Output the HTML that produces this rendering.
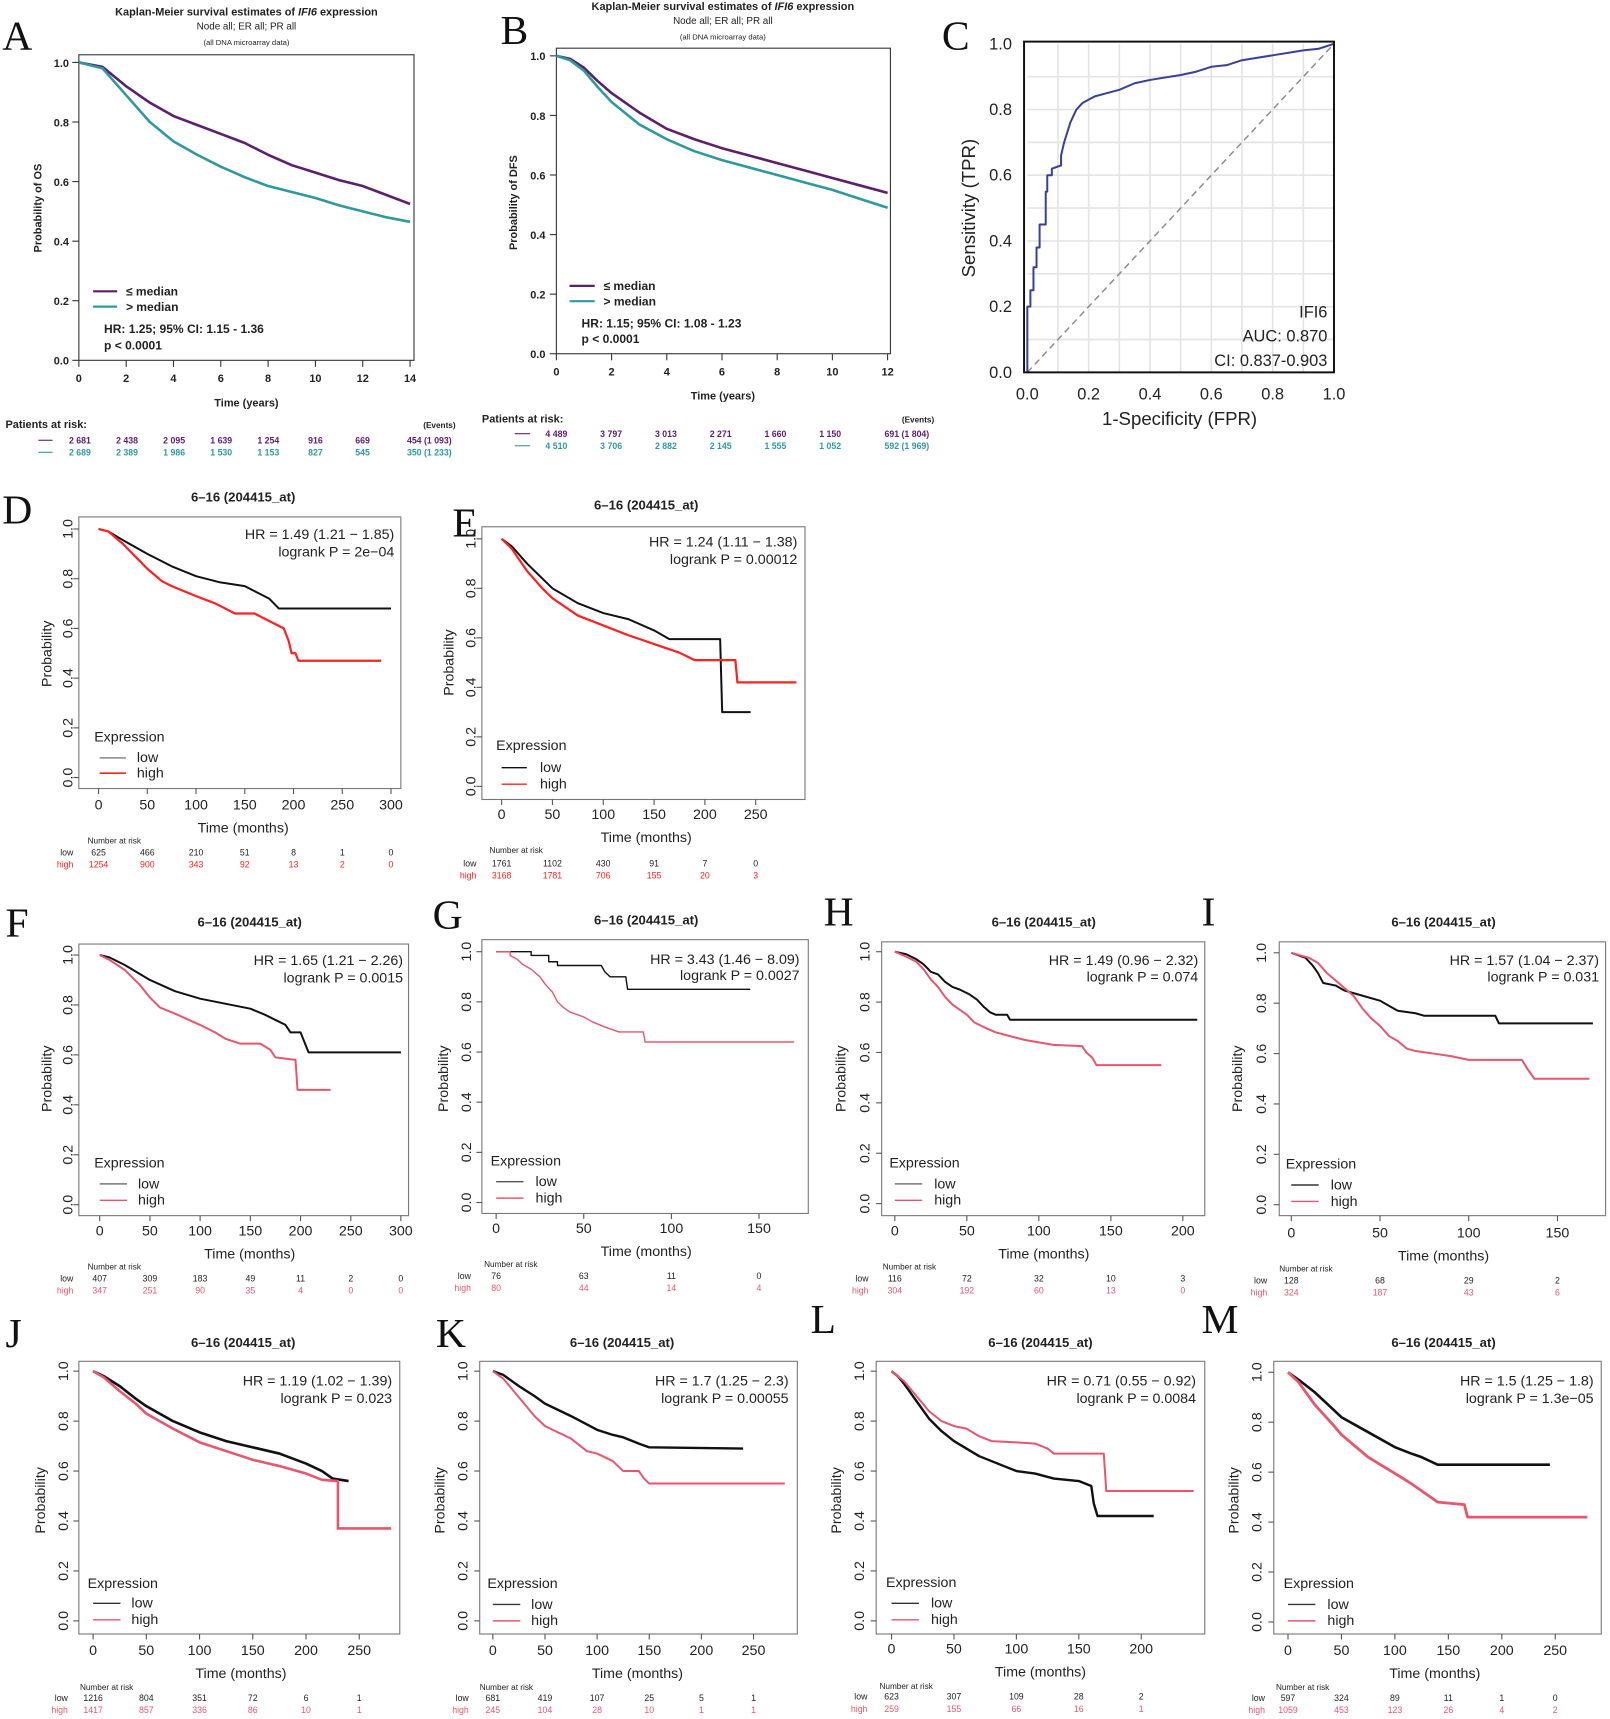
<!DOCTYPE html>
<html><head><meta charset="utf-8"><style>
html,body{margin:0;padding:0;background:#fff}
svg{display:block}
text{font-family:"Liberation Sans",Arial,sans-serif;fill:#222}
.pl{font-family:"Liberation Serif",serif;font-size:38px;fill:#111}
.ttl{font-size:12px;font-weight:bold;text-anchor:middle}
.tk{font-size:13px;text-anchor:middle}
.hr{font-size:13px;text-anchor:end}
.lg{font-size:13px}
.rk{font-size:8px;text-anchor:middle}
.rl{font-size:8px;text-anchor:end}
.nr{font-size:7.5px}
.hi,g.hi text{fill:#e8566e}
.hr2,g.hr2 text{fill:#ff2020}
g.pf text{fill:#5b1f6e}
g.tf text{fill:#2e9aa0}
.box{fill:none;stroke:#777;stroke-width:1}
.c{fill:none;vector-effect:non-scaling-stroke;stroke-linejoin:round}
.lo{stroke:#111;stroke-width:2}
.hp{stroke:#e8566e;stroke-width:2}
.hrd{stroke:#ff2020;stroke-width:2.2}
.pu{stroke:#5b1f6e;stroke-width:2.6}
.te{stroke:#2e9aa0;stroke-width:2.6}
.ab{font-size:10px;font-weight:bold}
</style></head><body>
<svg width="1610" height="1719" viewBox="0 0 1470 1569.6" preserveAspectRatio="none" xmlns="http://www.w3.org/2000/svg">

<!-- ===== A ===== -->
<text class="pl" x="2" y="45">A</text>
<text x="225" y="14" style="font-size:10px;font-weight:bold;text-anchor:middle">Kaplan-Meier survival estimates of <tspan font-style="italic">IFI6</tspan> expression</text>
<text x="225" y="27" style="font-size:9px;text-anchor:middle">Node all; ER all; PR all</text>
<text x="225" y="41" style="font-size:7px;text-anchor:middle">(all DNA microarray data)</text>
<rect x="72" y="50" width="306" height="279" fill="none" stroke="#333" stroke-width="1"/>
<g stroke="#333"><line x1="72" y1="329" x2="72" y2="335"/><line x1="115.2" y1="329" x2="115.2" y2="335"/><line x1="158.4" y1="329" x2="158.4" y2="335"/><line x1="201.6" y1="329" x2="201.6" y2="335"/><line x1="244.8" y1="329" x2="244.8" y2="335"/><line x1="288" y1="329" x2="288" y2="335"/><line x1="331.2" y1="329" x2="331.2" y2="335"/><line x1="374.4" y1="329" x2="374.4" y2="335"/>
<line x1="66" y1="329" x2="72" y2="329"/><line x1="66" y1="274.6" x2="72" y2="274.6"/><line x1="66" y1="220.2" x2="72" y2="220.2"/><line x1="66" y1="165.8" x2="72" y2="165.8"/><line x1="66" y1="111.4" x2="72" y2="111.4"/><line x1="66" y1="57" x2="72" y2="57"/></g>
<g class="ab" text-anchor="middle"><text x="72" y="349">0</text><text x="115.2" y="349">2</text><text x="158.4" y="349">4</text><text x="201.6" y="349">6</text><text x="244.8" y="349">8</text><text x="288" y="349">10</text><text x="331.2" y="349">12</text><text x="374.4" y="349">14</text></g>
<g class="ab" text-anchor="end"><text x="63" y="333">0.0</text><text x="63" y="278.6">0.2</text><text x="63" y="224.2">0.4</text><text x="63" y="169.8">0.6</text><text x="63" y="115.4">0.8</text><text x="63" y="61">1.0</text></g>
<text class="ab" x="225" y="371" text-anchor="middle">Time (years)</text>
<text class="ab" transform="translate(38,190) rotate(-90)" text-anchor="middle">Probability of OS</text>
<g transform="translate(72,329) scale(21.6,-272)">
<polyline class="c pu" points="0,1 1,0.985 2,0.92 3,0.865 4,0.82 5,0.79 6,0.76 7,0.73 8,0.69 9,0.655 10,0.63 11,0.605 12,0.585 13,0.555 14,0.525"/>
<polyline class="c te" points="0,1 1,0.98 2,0.89 3,0.8 4,0.735 5,0.69 6,0.65 7,0.615 8,0.585 9,0.565 10,0.545 11,0.52 12,0.5 13,0.48 14,0.465"/>
</g>
<line x1="85" y1="266" x2="107" y2="266" stroke="#5b1f6e" stroke-width="2"/><line x1="85" y1="280" x2="107" y2="280" stroke="#2e9aa0" stroke-width="2"/>
<text class="ab" x="115" y="270" style="font-size:11px">≤ median</text><text class="ab" x="115" y="284" style="font-size:11px">&gt; median</text>
<text class="ab" x="95" y="304" style="font-size:11px">HR: 1.25; 95% CI: 1.15 - 1.36</text>
<text class="ab" x="95" y="319" style="font-size:11px">p &lt; 0.0001</text>
<text class="ab" x="5" y="391">Patients at risk:</text>
<text x="416" y="391" style="font-size:7.5px;font-weight:bold;text-anchor:end">(Events)</text>
<line x1="35" y1="402" x2="48" y2="402" stroke="#5b1f6e"/><line x1="35" y1="413" x2="48" y2="413" stroke="#2e9aa0"/>
<g class="pf" style="font-size:8px;font-weight:bold;text-anchor:middle"><text x="73" y="405">2 681</text><text x="116" y="405">2 438</text><text x="159" y="405">2 095</text><text x="202" y="405">1 639</text><text x="245" y="405">1 254</text><text x="288" y="405">916</text><text x="331" y="405">669</text><text x="392" y="405">454  (1 093)</text></g>
<g class="tf" style="font-size:8px;font-weight:bold;text-anchor:middle"><text x="73" y="416">2 689</text><text x="116" y="416">2 389</text><text x="159" y="416">1 986</text><text x="202" y="416">1 530</text><text x="245" y="416">1 153</text><text x="288" y="416">827</text><text x="331" y="416">545</text><text x="392" y="416">350  (1 233)</text></g>

<!-- ===== B ===== -->
<text class="pl" x="457" y="40">B</text>
<text x="660" y="9" style="font-size:10px;font-weight:bold;text-anchor:middle">Kaplan-Meier survival estimates of <tspan font-style="italic">IFI6</tspan> expression</text>
<text x="660" y="22" style="font-size:9px;text-anchor:middle">Node all; ER all; PR all</text>
<text x="660" y="36" style="font-size:7px;text-anchor:middle">(all DNA microarray data)</text>
<rect x="508" y="44" width="305" height="279" fill="none" stroke="#333" stroke-width="1"/>
<g stroke="#333"><line x1="508" y1="323" x2="508" y2="329"/><line x1="558.4" y1="323" x2="558.4" y2="329"/><line x1="608.8" y1="323" x2="608.8" y2="329"/><line x1="659.2" y1="323" x2="659.2" y2="329"/><line x1="709.6" y1="323" x2="709.6" y2="329"/><line x1="760" y1="323" x2="760" y2="329"/><line x1="810.4" y1="323" x2="810.4" y2="329"/>
<line x1="502" y1="323" x2="508" y2="323"/><line x1="502" y1="268.6" x2="508" y2="268.6"/><line x1="502" y1="214.2" x2="508" y2="214.2"/><line x1="502" y1="159.8" x2="508" y2="159.8"/><line x1="502" y1="105.4" x2="508" y2="105.4"/><line x1="502" y1="51" x2="508" y2="51"/></g>
<g class="ab" text-anchor="middle"><text x="508" y="343">0</text><text x="558.4" y="343">2</text><text x="608.8" y="343">4</text><text x="659.2" y="343">6</text><text x="709.6" y="343">8</text><text x="760" y="343">10</text><text x="810.4" y="343">12</text></g>
<g class="ab" text-anchor="end"><text x="498" y="327">0.0</text><text x="498" y="272.6">0.2</text><text x="498" y="218.2">0.4</text><text x="498" y="163.8">0.6</text><text x="498" y="109.4">0.8</text><text x="498" y="55">1.0</text></g>
<text class="ab" x="660" y="365" text-anchor="middle">Time (years)</text>
<text class="ab" transform="translate(472,185) rotate(-90)" text-anchor="middle">Probability of DFS</text>
<g transform="translate(508,323) scale(25.2,-272)">
<polyline class="c pu" points="0,1 0.5,0.99 1,0.96 1.5,0.915 2,0.875 3,0.81 4,0.755 5,0.72 6,0.69 7,0.665 8,0.64 9,0.615 10,0.59 11,0.565 12,0.54"/>
<polyline class="c te" points="0,1 0.5,0.985 1,0.95 1.5,0.895 2,0.845 3,0.77 4,0.72 5,0.68 6,0.65 7,0.625 8,0.6 9,0.575 10,0.55 11,0.52 12,0.49"/>
</g>
<line x1="520" y1="261" x2="543" y2="261" stroke="#5b1f6e" stroke-width="2"/><line x1="520" y1="275" x2="543" y2="275" stroke="#2e9aa0" stroke-width="2"/>
<text class="ab" x="551" y="265" style="font-size:11px">≤ median</text><text class="ab" x="551" y="279" style="font-size:11px">&gt; median</text>
<text class="ab" x="531" y="299" style="font-size:11px">HR: 1.15; 95% CI: 1.08 - 1.23</text>
<text class="ab" x="531" y="313" style="font-size:11px">p &lt; 0.0001</text>
<text class="ab" x="440" y="386">Patients at risk:</text>
<text x="853" y="386" style="font-size:7.5px;font-weight:bold;text-anchor:end">(Events)</text>
<line x1="470" y1="396" x2="484" y2="396" stroke="#5b1f6e"/><line x1="470" y1="407" x2="484" y2="407" stroke="#2e9aa0"/>
<g class="pf" style="font-size:8px;font-weight:bold;text-anchor:middle"><text x="508" y="399">4 489</text><text x="558" y="399">3 797</text><text x="608" y="399">3 013</text><text x="658" y="399">2 271</text><text x="708" y="399">1 660</text><text x="758" y="399">1 150</text><text x="828" y="399">691  (1 804)</text></g>
<g class="tf" style="font-size:8px;font-weight:bold;text-anchor:middle"><text x="508" y="410">4 510</text><text x="558" y="410">3 706</text><text x="608" y="410">2 882</text><text x="658" y="410">2 145</text><text x="708" y="410">1 555</text><text x="758" y="410">1 052</text><text x="828" y="410">592  (1 969)</text></g>

<!-- ===== C ===== -->
<text class="pl" x="860" y="45">C</text>
<g stroke="#e4e4e4" stroke-width="1.5">
<line x1="966" y1="40" x2="966" y2="340"/><line x1="994" y1="40" x2="994" y2="340"/><line x1="1022" y1="40" x2="1022" y2="340"/><line x1="1050" y1="40" x2="1050" y2="340"/><line x1="1078" y1="40" x2="1078" y2="340"/><line x1="1106" y1="40" x2="1106" y2="340"/><line x1="1134" y1="40" x2="1134" y2="340"/><line x1="1162" y1="40" x2="1162" y2="340"/><line x1="1190" y1="40" x2="1190" y2="340"/>
<line x1="938" y1="70" x2="1218" y2="70"/><line x1="938" y1="100" x2="1218" y2="100"/><line x1="938" y1="130" x2="1218" y2="130"/><line x1="938" y1="160" x2="1218" y2="160"/><line x1="938" y1="190" x2="1218" y2="190"/><line x1="938" y1="220" x2="1218" y2="220"/><line x1="938" y1="250" x2="1218" y2="250"/><line x1="938" y1="280" x2="1218" y2="280"/><line x1="938" y1="310" x2="1218" y2="310"/></g>
<line x1="938" y1="340" x2="1218" y2="40" stroke="#888" stroke-width="1.3" stroke-dasharray="6,4"/>
<g transform="translate(938,340) scale(280,-300)">
<polyline class="c" stroke="#3a3f9e" stroke-width="2" points="0,0 0,0.2 0.01,0.2 0.01,0.25 0.02,0.25 0.02,0.32 0.03,0.32 0.03,0.38 0.04,0.38 0.04,0.45 0.06,0.45 0.06,0.55 0.065,0.55 0.065,0.6 0.08,0.6 0.08,0.62 0.11,0.63 0.11,0.66 0.12,0.7 0.13,0.73 0.14,0.76 0.15,0.78 0.16,0.8 0.18,0.82 0.2,0.83 0.22,0.84 0.26,0.85 0.3,0.86 0.35,0.88 0.4,0.89 0.5,0.905 0.55,0.915 0.6,0.93 0.65,0.935 0.7,0.95 0.8,0.965 0.9,0.98 0.95,0.985 1,1"/>
</g>
<rect x="935" y="38" width="283" height="302" fill="none" stroke="#111" stroke-width="1.8"/>
<g style="font-size:15px;text-anchor:middle"><text x="938" y="365">0.0</text><text x="994" y="365">0.2</text><text x="1050" y="365">0.4</text><text x="1106" y="365">0.6</text><text x="1162" y="365">0.8</text><text x="1218" y="365">1.0</text></g>
<g style="font-size:15px;text-anchor:end"><text x="924" y="345">0.0</text><text x="924" y="285">0.2</text><text x="924" y="225">0.4</text><text x="924" y="165">0.6</text><text x="924" y="105">0.8</text><text x="924" y="45">1.0</text></g>
<text x="1077" y="388" style="font-size:17px;text-anchor:middle">1-Specificity (FPR)</text>
<text transform="translate(890,190) rotate(-90)" style="font-size:17px;text-anchor:middle">Sensitivity (TPR)</text>
<g style="font-size:15px;text-anchor:end"><text x="1212" y="290">IFI6</text><text x="1212" y="312">AUC: 0.870</text><text x="1212" y="334">CI: 0.837-0.903</text></g>

<!-- ===== D ===== -->
<text class="pl" x="2" y="478">D</text>
<text class="ttl" x="222" y="458">6–16 (204415_at)</text>
<rect class="box" x="72" y="472" width="294" height="248"/>
<g stroke="#555"><line x1="90" y1="720" x2="90" y2="725"/><line x1="134.5" y1="720" x2="134.5" y2="725"/><line x1="179" y1="720" x2="179" y2="725"/><line x1="223.5" y1="720" x2="223.5" y2="725"/><line x1="268" y1="720" x2="268" y2="725"/><line x1="312.5" y1="720" x2="312.5" y2="725"/><line x1="357" y1="720" x2="357" y2="725"/>
<line x1="67" y1="710" x2="72" y2="710"/><line x1="67" y1="664.6" x2="72" y2="664.6"/><line x1="67" y1="619.2" x2="72" y2="619.2"/><line x1="67" y1="573.8" x2="72" y2="573.8"/><line x1="67" y1="528.4" x2="72" y2="528.4"/><line x1="67" y1="483" x2="72" y2="483"/></g>
<g class="tk"><text x="90" y="739">0</text><text x="134.5" y="739">50</text><text x="179" y="739">100</text><text x="223.5" y="739">150</text><text x="268" y="739">200</text><text x="312.5" y="739">250</text><text x="357" y="739">300</text></g>
<g class="tk"><text transform="translate(66,710) rotate(-90)">0.0</text><text transform="translate(66,664.6) rotate(-90)">0.2</text><text transform="translate(66,619.2) rotate(-90)">0.4</text><text transform="translate(66,573.8) rotate(-90)">0.6</text><text transform="translate(66,528.4) rotate(-90)">0.8</text><text transform="translate(66,483) rotate(-90)">1.0</text></g>
<text class="tk" x="222" y="760">Time (months)</text>
<text class="tk" transform="translate(47,597) rotate(-90)">Probability</text>
<text class="hr" x="360" y="492">HR = 1.49 (1.21 − 1.85)</text><text class="hr" x="360" y="508">logrank P = 2e−04</text>
<g transform="translate(90,710) scale(0.89,-227)">
<polyline class="c lo" points="0,1 10,0.99 25,0.955 50,0.9 75,0.85 100,0.81 125,0.785 150,0.77 165,0.74 175,0.72 180,0.7 185,0.68 300,0.68"/>
<polyline class="c hrd" points="0,1 10,0.99 25,0.94 40,0.88 50,0.84 65,0.79 75,0.77 100,0.73 120,0.7 140,0.66 160,0.66 175,0.63 190,0.6 195,0.55 198,0.5 202,0.5 205,0.47 290,0.47"/>
</g>
<text class="lg" x="86" y="677">Expression</text>
<line x1="91" y1="692" x2="115" y2="692" stroke="#999" stroke-width="1.5"/><line x1="91" y1="706" x2="115" y2="706" stroke="#ff2020" stroke-width="1.5"/>
<text class="lg" x="125" y="696">low</text><text class="lg" x="125" y="710">high</text>
<text class="nr" x="80" y="770">Number at risk</text>
<text class="rl" x="67" y="781">low</text><text class="rl hr2" x="67" y="792">high</text>
<g class="rk"><text x="90" y="781">625</text><text x="134.5" y="781">466</text><text x="179" y="781">210</text><text x="223.5" y="781">51</text><text x="268" y="781">8</text><text x="312.5" y="781">1</text><text x="357" y="781">0</text></g>
<g class="rk hr2"><text x="90" y="792">1254</text><text x="134.5" y="792">900</text><text x="179" y="792">343</text><text x="223.5" y="792">92</text><text x="268" y="792">13</text><text x="312.5" y="792">2</text><text x="357" y="792">0</text></g>

<!-- ===== E ===== -->
<text class="pl" x="413" y="490">E</text>
<text class="ttl" x="590" y="465">6–16 (204415_at)</text>
<rect class="box" x="440" y="481" width="295" height="249"/>
<g stroke="#555"><line x1="458" y1="730" x2="458" y2="735"/><line x1="504.4" y1="730" x2="504.4" y2="735"/><line x1="550.8" y1="730" x2="550.8" y2="735"/><line x1="597.2" y1="730" x2="597.2" y2="735"/><line x1="643.6" y1="730" x2="643.6" y2="735"/><line x1="690" y1="730" x2="690" y2="735"/>
<line x1="435" y1="718" x2="440" y2="718"/><line x1="435" y1="672.8" x2="440" y2="672.8"/><line x1="435" y1="627.6" x2="440" y2="627.6"/><line x1="435" y1="582.4" x2="440" y2="582.4"/><line x1="435" y1="537.2" x2="440" y2="537.2"/><line x1="435" y1="492" x2="440" y2="492"/></g>
<g class="tk"><text x="458" y="748">0</text><text x="504.4" y="748">50</text><text x="550.8" y="748">100</text><text x="597.2" y="748">150</text><text x="643.6" y="748">200</text><text x="690" y="748">250</text></g>
<g class="tk"><text transform="translate(434,718) rotate(-90)">0.0</text><text transform="translate(434,672.8) rotate(-90)">0.2</text><text transform="translate(434,627.6) rotate(-90)">0.4</text><text transform="translate(434,582.4) rotate(-90)">0.6</text><text transform="translate(434,537.2) rotate(-90)">0.8</text><text transform="translate(434,492) rotate(-90)">1.0</text></g>
<text class="tk" x="590" y="769">Time (months)</text>
<text class="tk" transform="translate(414,605) rotate(-90)">Probability</text>
<text class="hr" x="728" y="499">HR = 1.24 (1.11 − 1.38)</text><text class="hr" x="728" y="515">logrank P = 0.00012</text>
<g transform="translate(458,718) scale(0.928,-226)">
<polyline class="c lo" points="0,1 10,0.97 25,0.9 40,0.84 50,0.8 75,0.74 100,0.7 125,0.675 150,0.63 165,0.595 215,0.595 217,0.3 245,0.3"/>
<polyline class="c hrd" points="0,1 10,0.96 25,0.87 40,0.8 50,0.76 75,0.69 100,0.65 125,0.61 150,0.575 175,0.54 190,0.51 230,0.51 232,0.42 290,0.42"/>
</g>
<text class="lg" x="453" y="685">Expression</text>
<line x1="458" y1="701" x2="481" y2="701" stroke="#111" stroke-width="1.3"/><line x1="458" y1="716" x2="481" y2="716" stroke="#ff2020" stroke-width="1.3"/>
<text class="lg" x="493" y="705">low</text><text class="lg" x="493" y="720">high</text>
<text class="nr" x="447" y="779">Number at risk</text>
<text class="rl" x="435" y="791">low</text><text class="rl hr2" x="435" y="802">high</text>
<g class="rk"><text x="458" y="791">1761</text><text x="504.4" y="791">1102</text><text x="550.8" y="791">430</text><text x="597.2" y="791">91</text><text x="643.6" y="791">7</text><text x="690" y="791">0</text></g>
<g class="rk hr2"><text x="458" y="802">3168</text><text x="504.4" y="802">1781</text><text x="550.8" y="802">706</text><text x="597.2" y="802">155</text><text x="643.6" y="802">20</text><text x="690" y="802">3</text></g>

<!-- ===== F ===== -->
<text class="pl" x="5" y="855">F</text>
<text class="ttl" x="228" y="846">6–16 (204415_at)</text>
<rect class="box" x="72" y="862" width="301" height="248"/>
<g stroke="#555"><line x1="91" y1="1110" x2="91" y2="1115"/><line x1="136.9" y1="1110" x2="136.9" y2="1115"/><line x1="182.7" y1="1110" x2="182.7" y2="1115"/><line x1="228.6" y1="1110" x2="228.6" y2="1115"/><line x1="274.4" y1="1110" x2="274.4" y2="1115"/><line x1="320.3" y1="1110" x2="320.3" y2="1115"/><line x1="366" y1="1110" x2="366" y2="1115"/>
<line x1="67" y1="1100" x2="72" y2="1100"/><line x1="67" y1="1054.4" x2="72" y2="1054.4"/><line x1="67" y1="1008.8" x2="72" y2="1008.8"/><line x1="67" y1="963.2" x2="72" y2="963.2"/><line x1="67" y1="917.6" x2="72" y2="917.6"/><line x1="67" y1="872" x2="72" y2="872"/></g>
<g class="tk"><text x="91" y="1128">0</text><text x="136.9" y="1128">50</text><text x="182.7" y="1128">100</text><text x="228.6" y="1128">150</text><text x="274.4" y="1128">200</text><text x="320.3" y="1128">250</text><text x="366" y="1128">300</text></g>
<g class="tk"><text transform="translate(66,1100) rotate(-90)">0.0</text><text transform="translate(66,1054.4) rotate(-90)">0.2</text><text transform="translate(66,1008.8) rotate(-90)">0.4</text><text transform="translate(66,963.2) rotate(-90)">0.6</text><text transform="translate(66,917.6) rotate(-90)">0.8</text><text transform="translate(66,872) rotate(-90)">1.0</text></g>
<text class="tk" x="228" y="1149">Time (months)</text>
<text class="tk" transform="translate(47,985) rotate(-90)">Probability</text>
<text class="hr" x="368" y="881">HR = 1.65 (1.21 − 2.26)</text><text class="hr" x="368" y="897">logrank P = 0.0015</text>
<g transform="translate(91,1100) scale(0.917,-228)">
<polyline class="c lo" points="0,1 10,0.99 25,0.96 50,0.9 75,0.855 100,0.825 125,0.805 150,0.785 165,0.76 175,0.74 185,0.72 190,0.69 200,0.69 205,0.64 208,0.61 300,0.61"/>
<polyline class="c hp" points="0,1 10,0.98 25,0.94 40,0.88 50,0.83 60,0.79 75,0.765 100,0.72 115,0.69 125,0.665 140,0.645 160,0.645 170,0.62 175,0.59 195,0.58 197,0.46 230,0.46"/>
</g>
<text class="lg" x="86" y="1066">Expression</text>
<line x1="91" y1="1081" x2="116" y2="1081" stroke="#777" stroke-width="1.3"/><line x1="91" y1="1096" x2="116" y2="1096" stroke="#e8566e" stroke-width="1.3"/>
<text class="lg" x="126" y="1085">low</text><text class="lg" x="126" y="1100">high</text>
<text class="nr" x="80" y="1159">Number at risk</text>
<text class="rl" x="67" y="1170">low</text><text class="rl hi" x="67" y="1181">high</text>
<g class="rk"><text x="91" y="1170">407</text><text x="136.9" y="1170">309</text><text x="182.7" y="1170">183</text><text x="228.6" y="1170">49</text><text x="274.4" y="1170">11</text><text x="320.3" y="1170">2</text><text x="366" y="1170">0</text></g>
<g class="rk hi"><text x="91" y="1181">347</text><text x="136.9" y="1181">251</text><text x="182.7" y="1181">90</text><text x="228.6" y="1181">35</text><text x="274.4" y="1181">4</text><text x="320.3" y="1181">0</text><text x="366" y="1181">0</text></g>

<!-- ===== G ===== -->
<text class="pl" x="395" y="848">G</text>
<text class="ttl" x="590" y="844">6–16 (204415_at)</text>
<rect class="box" x="440" y="858" width="298" height="250"/>
<g stroke="#555"><line x1="453" y1="1108" x2="453" y2="1113"/><line x1="533" y1="1108" x2="533" y2="1113"/><line x1="613" y1="1108" x2="613" y2="1113"/><line x1="693" y1="1108" x2="693" y2="1113"/>
<line x1="435" y1="1098" x2="440" y2="1098"/><line x1="435" y1="1052.2" x2="440" y2="1052.2"/><line x1="435" y1="1006.4" x2="440" y2="1006.4"/><line x1="435" y1="960.6" x2="440" y2="960.6"/><line x1="435" y1="914.8" x2="440" y2="914.8"/><line x1="435" y1="869" x2="440" y2="869"/></g>
<g class="tk"><text x="453" y="1126">0</text><text x="533" y="1126">50</text><text x="613" y="1126">100</text><text x="693" y="1126">150</text></g>
<g class="tk"><text transform="translate(430,1098) rotate(-90)">0.0</text><text transform="translate(430,1052.2) rotate(-90)">0.2</text><text transform="translate(430,1006.4) rotate(-90)">0.4</text><text transform="translate(430,960.6) rotate(-90)">0.6</text><text transform="translate(430,914.8) rotate(-90)">0.8</text><text transform="translate(430,869) rotate(-90)">1.0</text></g>
<text class="tk" x="590" y="1147">Time (months)</text>
<text class="tk" transform="translate(409,985) rotate(-90)">Probability</text>
<text class="hr" x="730" y="880">HR = 3.43 (1.46 − 8.09)</text><text class="hr" x="730" y="895">logrank P = 0.0027</text>
<g transform="translate(453,1098) scale(1.6,-229)">
<polyline class="c lo" style="stroke-width:1.4" points="0,1 20,1 20,0.985 30,0.985 30,0.96 35,0.96 35,0.945 60,0.945 62,0.92 65,0.9 74,0.9 75,0.85 145,0.85"/>
<polyline class="c hp" style="stroke-width:1.4" points="0,1 8,1 8,0.985 12,0.97 15,0.95 20,0.93 25,0.9 28,0.87 32,0.84 35,0.8 38,0.78 42,0.76 50,0.74 55,0.72 62,0.7 70,0.68 84,0.68 85,0.64 170,0.64"/>
</g>
<text class="lg" x="448" y="1064">Expression</text>
<line x1="453" y1="1079" x2="478" y2="1079" stroke="#555" stroke-width="1.3"/><line x1="453" y1="1094" x2="478" y2="1094" stroke="#e8566e" stroke-width="1.3"/>
<text class="lg" x="489" y="1083">low</text><text class="lg" x="489" y="1098">high</text>
<text class="nr" x="442" y="1157">Number at risk</text>
<text class="rl" x="430" y="1168">low</text><text class="rl hi" x="430" y="1179">high</text>
<g class="rk"><text x="453" y="1168">76</text><text x="533" y="1168">63</text><text x="613" y="1168">11</text><text x="693" y="1168">0</text></g>
<g class="rk hi"><text x="453" y="1179">80</text><text x="533" y="1179">44</text><text x="613" y="1179">14</text><text x="693" y="1179">4</text></g>

<!-- ===== H ===== -->
<text class="pl" x="752" y="845">H</text>
<text class="ttl" x="953" y="846">6–16 (204415_at)</text>
<rect class="box" x="805" y="860" width="295" height="250"/>
<g stroke="#555"><line x1="817" y1="1110" x2="817" y2="1115"/><line x1="882.8" y1="1110" x2="882.8" y2="1115"/><line x1="948.5" y1="1110" x2="948.5" y2="1115"/><line x1="1014.3" y1="1110" x2="1014.3" y2="1115"/><line x1="1080" y1="1110" x2="1080" y2="1115"/>
<line x1="800" y1="1099" x2="805" y2="1099"/><line x1="800" y1="1053" x2="805" y2="1053"/><line x1="800" y1="1007" x2="805" y2="1007"/><line x1="800" y1="961" x2="805" y2="961"/><line x1="800" y1="915" x2="805" y2="915"/><line x1="800" y1="869" x2="805" y2="869"/></g>
<g class="tk"><text x="817" y="1128">0</text><text x="882.8" y="1128">50</text><text x="948.5" y="1128">100</text><text x="1014.3" y="1128">150</text><text x="1080" y="1128">200</text></g>
<g class="tk"><text transform="translate(794,1099) rotate(-90)">0.0</text><text transform="translate(794,1053) rotate(-90)">0.2</text><text transform="translate(794,1007) rotate(-90)">0.4</text><text transform="translate(794,961) rotate(-90)">0.6</text><text transform="translate(794,915) rotate(-90)">0.8</text><text transform="translate(794,869) rotate(-90)">1.0</text></g>
<text class="tk" x="953" y="1149">Time (months)</text>
<text class="tk" transform="translate(772,985) rotate(-90)">Probability</text>
<text class="hr" x="1094" y="881">HR = 1.49 (0.96 − 2.32)</text><text class="hr" x="1094" y="896">logrank P = 0.074</text>
<g transform="translate(817,1099) scale(1.315,-230)">
<polyline class="c lo" points="0,1 8,0.99 15,0.97 20,0.95 25,0.92 30,0.91 35,0.88 40,0.86 45,0.85 52,0.83 57,0.81 62,0.78 66,0.76 70,0.75 78,0.75 80,0.73 210,0.73"/>
<polyline class="c hp" points="0,1 8,0.98 15,0.96 20,0.93 25,0.89 30,0.86 35,0.82 40,0.79 45,0.77 50,0.75 55,0.72 62,0.7 70,0.68 80,0.665 90,0.65 100,0.64 110,0.63 130,0.625 133,0.6 137,0.58 140,0.55 185,0.55"/>
</g>
<text class="lg" x="812" y="1066">Expression</text>
<line x1="817" y1="1081" x2="842" y2="1081" stroke="#777" stroke-width="1.3"/><line x1="817" y1="1096" x2="842" y2="1096" stroke="#e8566e" stroke-width="1.3"/>
<text class="lg" x="853" y="1085">low</text><text class="lg" x="853" y="1100">high</text>
<text class="nr" x="806" y="1159">Number at risk</text>
<text class="rl" x="793" y="1170">low</text><text class="rl hi" x="793" y="1181">high</text>
<g class="rk"><text x="817" y="1170">116</text><text x="882.8" y="1170">72</text><text x="948.5" y="1170">32</text><text x="1014.3" y="1170">10</text><text x="1080" y="1170">3</text></g>
<g class="rk hi"><text x="817" y="1181">304</text><text x="882.8" y="1181">192</text><text x="948.5" y="1181">60</text><text x="1014.3" y="1181">13</text><text x="1080" y="1181">0</text></g>

<!-- ===== I ===== -->
<text class="pl" x="1097" y="845">I</text>
<text class="ttl" x="1318" y="846">6–16 (204415_at)</text>
<rect class="box" x="1168" y="860" width="298" height="250"/>
<g stroke="#555"><line x1="1179" y1="1110" x2="1179" y2="1115"/><line x1="1260" y1="1110" x2="1260" y2="1115"/><line x1="1341" y1="1110" x2="1341" y2="1115"/><line x1="1422" y1="1110" x2="1422" y2="1115"/>
<line x1="1163" y1="1100" x2="1168" y2="1100"/><line x1="1163" y1="1054" x2="1168" y2="1054"/><line x1="1163" y1="1008" x2="1168" y2="1008"/><line x1="1163" y1="962" x2="1168" y2="962"/><line x1="1163" y1="916" x2="1168" y2="916"/><line x1="1163" y1="870" x2="1168" y2="870"/></g>
<g class="tk"><text x="1179" y="1130">0</text><text x="1260" y="1130">50</text><text x="1341" y="1130">100</text><text x="1422" y="1130">150</text></g>
<g class="tk"><text transform="translate(1156,1100) rotate(-90)">0.0</text><text transform="translate(1156,1054) rotate(-90)">0.2</text><text transform="translate(1156,1008) rotate(-90)">0.4</text><text transform="translate(1156,962) rotate(-90)">0.6</text><text transform="translate(1156,916) rotate(-90)">0.8</text><text transform="translate(1156,870) rotate(-90)">1.0</text></g>
<text class="tk" x="1318" y="1151">Time (months)</text>
<text class="tk" transform="translate(1134,985) rotate(-90)">Probability</text>
<text class="hr" x="1460" y="881">HR = 1.57 (1.04 − 2.37)</text><text class="hr" x="1460" y="896">logrank P = 0.031</text>
<g transform="translate(1179,1100) scale(1.62,-230)">
<polyline class="c lo" points="0,1 8,0.98 12,0.95 15,0.92 18,0.88 25,0.87 30,0.85 40,0.83 50,0.81 55,0.79 60,0.77 70,0.76 75,0.75 115,0.75 117,0.72 170,0.72"/>
<polyline class="c hp" points="0,1 10,0.98 15,0.96 20,0.92 25,0.89 30,0.86 35,0.83 40,0.78 45,0.74 50,0.71 55,0.67 60,0.65 65,0.62 70,0.61 80,0.6 90,0.59 100,0.575 130,0.575 133,0.54 137,0.5 168,0.5"/>
</g>
<text class="lg" x="1174" y="1067">Expression</text>
<line x1="1179" y1="1082" x2="1204" y2="1082" stroke="#333" stroke-width="1.3"/><line x1="1179" y1="1097" x2="1204" y2="1097" stroke="#e8566e" stroke-width="1.3"/>
<text class="lg" x="1215" y="1086">low</text><text class="lg" x="1215" y="1101">high</text>
<text class="nr" x="1168" y="1161">Number at risk</text>
<text class="rl" x="1157" y="1172">low</text><text class="rl hi" x="1157" y="1183">high</text>
<g class="rk"><text x="1179" y="1172">128</text><text x="1260" y="1172">68</text><text x="1341" y="1172">29</text><text x="1422" y="1172">2</text></g>
<g class="rk hi"><text x="1179" y="1183">324</text><text x="1260" y="1183">187</text><text x="1341" y="1183">43</text><text x="1422" y="1183">6</text></g>

<!-- ===== J ===== -->
<text class="pl" x="5" y="1230">J</text>
<text class="ttl" x="222" y="1230">6–16 (204415_at)</text>
<rect class="box" x="72" y="1243" width="293" height="249"/>
<g stroke="#555"><line x1="85" y1="1492" x2="85" y2="1497"/><line x1="133.6" y1="1492" x2="133.6" y2="1497"/><line x1="182.2" y1="1492" x2="182.2" y2="1497"/><line x1="230.8" y1="1492" x2="230.8" y2="1497"/><line x1="279.4" y1="1492" x2="279.4" y2="1497"/><line x1="328" y1="1492" x2="328" y2="1497"/>
<line x1="67" y1="1480" x2="72" y2="1480"/><line x1="67" y1="1434.4" x2="72" y2="1434.4"/><line x1="67" y1="1388.8" x2="72" y2="1388.8"/><line x1="67" y1="1343.2" x2="72" y2="1343.2"/><line x1="67" y1="1297.6" x2="72" y2="1297.6"/><line x1="67" y1="1252" x2="72" y2="1252"/></g>
<g class="tk"><text x="85" y="1511">0</text><text x="133.6" y="1511">50</text><text x="182.2" y="1511">100</text><text x="230.8" y="1511">150</text><text x="279.4" y="1511">200</text><text x="328" y="1511">250</text></g>
<g class="tk"><text transform="translate(62,1480) rotate(-90)">0.0</text><text transform="translate(62,1434.4) rotate(-90)">0.2</text><text transform="translate(62,1388.8) rotate(-90)">0.4</text><text transform="translate(62,1343.2) rotate(-90)">0.6</text><text transform="translate(62,1297.6) rotate(-90)">0.8</text><text transform="translate(62,1252) rotate(-90)">1.0</text></g>
<text class="tk" x="220" y="1532">Time (months)</text>
<text class="tk" transform="translate(41,1370) rotate(-90)">Probability</text>
<text class="hr" x="358" y="1265">HR = 1.19 (1.02 − 1.39)</text><text class="hr" x="358" y="1281">logrank P = 0.023</text>
<g transform="translate(85,1480) scale(0.972,-228)">
<polyline class="c lo" style="stroke-width:2.6" points="0,1 10,0.98 25,0.94 40,0.89 50,0.86 75,0.8 100,0.755 125,0.72 150,0.695 175,0.67 200,0.63 215,0.6 225,0.57 240,0.56 240,0.56"/>
<polyline class="c hp" style="stroke-width:2.6" points="0,1 10,0.975 25,0.92 40,0.87 50,0.83 75,0.77 100,0.715 125,0.68 150,0.645 175,0.62 200,0.59 215,0.565 230,0.56 230,0.37 280,0.37"/>
</g>
<text class="lg" x="80" y="1450">Expression</text>
<line x1="85" y1="1464" x2="110" y2="1464" stroke="#333" stroke-width="1.3"/><line x1="85" y1="1479" x2="110" y2="1479" stroke="#e8566e" stroke-width="1.3"/>
<text class="lg" x="120" y="1468">low</text><text class="lg" x="120" y="1483">high</text>
<text class="nr" x="73" y="1543">Number at risk</text>
<text class="rl" x="62" y="1553">low</text><text class="rl hi" x="62" y="1564">high</text>
<g class="rk"><text x="85" y="1553">1216</text><text x="133.6" y="1553">804</text><text x="182.2" y="1553">351</text><text x="230.8" y="1553">72</text><text x="279.4" y="1553">6</text><text x="328" y="1553">1</text></g>
<g class="rk hi"><text x="85" y="1564">1417</text><text x="133.6" y="1564">857</text><text x="182.2" y="1564">336</text><text x="230.8" y="1564">86</text><text x="279.4" y="1564">10</text><text x="328" y="1564">1</text></g>

<!-- ===== K ===== -->
<text class="pl" x="398" y="1230">K</text>
<text class="ttl" x="568" y="1230">6–16 (204415_at)</text>
<rect class="box" x="438" y="1243" width="290" height="249"/>
<g stroke="#555"><line x1="450" y1="1492" x2="450" y2="1497"/><line x1="497.6" y1="1492" x2="497.6" y2="1497"/><line x1="545.2" y1="1492" x2="545.2" y2="1497"/><line x1="592.8" y1="1492" x2="592.8" y2="1497"/><line x1="640.4" y1="1492" x2="640.4" y2="1497"/><line x1="688" y1="1492" x2="688" y2="1497"/>
<line x1="433" y1="1480" x2="438" y2="1480"/><line x1="433" y1="1434.4" x2="438" y2="1434.4"/><line x1="433" y1="1388.8" x2="438" y2="1388.8"/><line x1="433" y1="1343.2" x2="438" y2="1343.2"/><line x1="433" y1="1297.6" x2="438" y2="1297.6"/><line x1="433" y1="1252" x2="438" y2="1252"/></g>
<g class="tk"><text x="450" y="1511">0</text><text x="497.6" y="1511">50</text><text x="545.2" y="1511">100</text><text x="592.8" y="1511">150</text><text x="640.4" y="1511">200</text><text x="688" y="1511">250</text></g>
<g class="tk"><text transform="translate(427,1480) rotate(-90)">0.0</text><text transform="translate(427,1434.4) rotate(-90)">0.2</text><text transform="translate(427,1388.8) rotate(-90)">0.4</text><text transform="translate(427,1343.2) rotate(-90)">0.6</text><text transform="translate(427,1297.6) rotate(-90)">0.8</text><text transform="translate(427,1252) rotate(-90)">1.0</text></g>
<text class="tk" x="582" y="1532">Time (months)</text>
<text class="tk" transform="translate(406,1370) rotate(-90)">Probability</text>
<text class="hr" x="720" y="1265">HR = 1.7 (1.25 − 2.3)</text><text class="hr" x="720" y="1281">logrank P = 0.00055</text>
<g transform="translate(450,1480) scale(0.952,-228)">
<polyline class="c lo" style="stroke-width:2.4" points="0,1 10,0.985 25,0.94 40,0.9 50,0.87 75,0.82 100,0.765 115,0.745 125,0.735 140,0.71 150,0.695 240,0.69"/>
<polyline class="c hp" points="0,1 10,0.97 20,0.92 30,0.87 40,0.82 50,0.78 60,0.76 75,0.73 90,0.68 100,0.67 115,0.64 125,0.6 140,0.6 145,0.57 150,0.55 280,0.55"/>
</g>
<text class="lg" x="445" y="1450">Expression</text>
<line x1="450" y1="1465" x2="475" y2="1465" stroke="#333" stroke-width="1.3"/><line x1="450" y1="1480" x2="475" y2="1480" stroke="#e8566e" stroke-width="1.3"/>
<text class="lg" x="485" y="1469">low</text><text class="lg" x="485" y="1484">high</text>
<text class="nr" x="438" y="1543">Number at risk</text>
<text class="rl" x="428" y="1553">low</text><text class="rl hi" x="428" y="1564">high</text>
<g class="rk"><text x="450" y="1553">681</text><text x="497.6" y="1553">419</text><text x="545.2" y="1553">107</text><text x="592.8" y="1553">25</text><text x="640.4" y="1553">5</text><text x="688" y="1553">1</text></g>
<g class="rk hi"><text x="450" y="1564">245</text><text x="497.6" y="1564">104</text><text x="545.2" y="1564">28</text><text x="592.8" y="1564">10</text><text x="640.4" y="1564">1</text><text x="688" y="1564">1</text></g>

<!-- ===== L ===== -->
<text class="pl" x="740" y="1217">L</text>
<text class="ttl" x="950" y="1230">6–16 (204415_at)</text>
<rect class="box" x="800" y="1243" width="300" height="249"/>
<g stroke="#555"><line x1="814" y1="1492" x2="814" y2="1497"/><line x1="871" y1="1492" x2="871" y2="1497"/><line x1="928" y1="1492" x2="928" y2="1497"/><line x1="985" y1="1492" x2="985" y2="1497"/><line x1="1042" y1="1492" x2="1042" y2="1497"/>
<line x1="795" y1="1480" x2="800" y2="1480"/><line x1="795" y1="1434.4" x2="800" y2="1434.4"/><line x1="795" y1="1388.8" x2="800" y2="1388.8"/><line x1="795" y1="1343.2" x2="800" y2="1343.2"/><line x1="795" y1="1297.6" x2="800" y2="1297.6"/><line x1="795" y1="1252" x2="800" y2="1252"/></g>
<g class="tk"><text x="814" y="1510">0</text><text x="871" y="1510">50</text><text x="928" y="1510">100</text><text x="985" y="1510">150</text><text x="1042" y="1510">200</text></g>
<g class="tk"><text transform="translate(789,1480) rotate(-90)">0.0</text><text transform="translate(789,1434.4) rotate(-90)">0.2</text><text transform="translate(789,1388.8) rotate(-90)">0.4</text><text transform="translate(789,1343.2) rotate(-90)">0.6</text><text transform="translate(789,1297.6) rotate(-90)">0.8</text><text transform="translate(789,1252) rotate(-90)">1.0</text></g>
<text class="tk" x="950" y="1531">Time (months)</text>
<text class="tk" transform="translate(768,1370) rotate(-90)">Probability</text>
<text class="hr" x="1092" y="1265">HR = 0.71 (0.55 − 0.92)</text><text class="hr" x="1092" y="1281">logrank P = 0.0084</text>
<g transform="translate(814,1480) scale(1.14,-228)">
<polyline class="c lo" style="stroke-width:2.4" points="0,1 5,0.98 10,0.95 20,0.88 30,0.81 40,0.76 50,0.72 60,0.69 70,0.66 80,0.64 90,0.62 100,0.6 115,0.59 130,0.57 150,0.56 160,0.54 162,0.47 165,0.42 210,0.42"/>
<polyline class="c hp" points="0,1 5,0.98 10,0.96 20,0.9 30,0.84 40,0.8 50,0.78 60,0.77 70,0.74 80,0.72 100,0.715 115,0.71 125,0.69 130,0.67 170,0.67 172,0.52 242,0.52"/>
</g>
<text class="lg" x="809" y="1449">Expression</text>
<line x1="814" y1="1464" x2="839" y2="1464" stroke="#333" stroke-width="1.3"/><line x1="814" y1="1479" x2="839" y2="1479" stroke="#e8566e" stroke-width="1.3"/>
<text class="lg" x="850" y="1468">low</text><text class="lg" x="850" y="1483">high</text>
<text class="nr" x="803" y="1542">Number at risk</text>
<text class="rl" x="792" y="1552">low</text><text class="rl hi" x="792" y="1563">high</text>
<g class="rk"><text x="814" y="1552">623</text><text x="871" y="1552">307</text><text x="928" y="1552">109</text><text x="985" y="1552">28</text><text x="1042" y="1552">2</text></g>
<g class="rk hi"><text x="814" y="1563">259</text><text x="871" y="1563">155</text><text x="928" y="1563">66</text><text x="985" y="1563">16</text><text x="1042" y="1563">1</text></g>

<!-- ===== M ===== -->
<text class="pl" x="1097" y="1217">M</text>
<text class="ttl" x="1318" y="1230">6–16 (204415_at)</text>
<rect class="box" x="1163" y="1243" width="299" height="249"/>
<g stroke="#555"><line x1="1176" y1="1492" x2="1176" y2="1497"/><line x1="1224.8" y1="1492" x2="1224.8" y2="1497"/><line x1="1273.6" y1="1492" x2="1273.6" y2="1497"/><line x1="1322.4" y1="1492" x2="1322.4" y2="1497"/><line x1="1371.2" y1="1492" x2="1371.2" y2="1497"/><line x1="1420" y1="1492" x2="1420" y2="1497"/>
<line x1="1158" y1="1481" x2="1163" y2="1481"/><line x1="1158" y1="1435.4" x2="1163" y2="1435.4"/><line x1="1158" y1="1389.8" x2="1163" y2="1389.8"/><line x1="1158" y1="1344.2" x2="1163" y2="1344.2"/><line x1="1158" y1="1298.6" x2="1163" y2="1298.6"/><line x1="1158" y1="1253" x2="1163" y2="1253"/></g>
<g class="tk"><text x="1176" y="1511">0</text><text x="1224.8" y="1511">50</text><text x="1273.6" y="1511">100</text><text x="1322.4" y="1511">150</text><text x="1371.2" y="1511">200</text><text x="1420" y="1511">250</text></g>
<g class="tk"><text transform="translate(1152,1481) rotate(-90)">0.0</text><text transform="translate(1152,1435.4) rotate(-90)">0.2</text><text transform="translate(1152,1389.8) rotate(-90)">0.4</text><text transform="translate(1152,1344.2) rotate(-90)">0.6</text><text transform="translate(1152,1298.6) rotate(-90)">0.8</text><text transform="translate(1152,1253) rotate(-90)">1.0</text></g>
<text class="tk" x="1310" y="1532">Time (months)</text>
<text class="tk" transform="translate(1131,1370) rotate(-90)">Probability</text>
<text class="hr" x="1455" y="1265">HR = 1.5 (1.25 − 1.8)</text><text class="hr" x="1455" y="1281">logrank P = 1.3e−05</text>
<g transform="translate(1176,1481) scale(0.976,-228)">
<polyline class="c lo" style="stroke-width:2.6" points="0,1 10,0.97 25,0.92 40,0.86 50,0.82 75,0.76 100,0.7 115,0.675 125,0.66 135,0.64 140,0.63 245,0.63"/>
<polyline class="c hp" style="stroke-width:2.8" points="0,1 10,0.96 25,0.87 40,0.8 50,0.75 75,0.66 100,0.595 115,0.555 125,0.525 140,0.48 165,0.47 168,0.42 280,0.42"/>
</g>
<text class="lg" x="1172" y="1450">Expression</text>
<line x1="1176" y1="1465" x2="1201" y2="1465" stroke="#333" stroke-width="1.3"/><line x1="1176" y1="1480" x2="1201" y2="1480" stroke="#e8566e" stroke-width="1.3"/>
<text class="lg" x="1212" y="1469">low</text><text class="lg" x="1212" y="1484">high</text>
<text class="nr" x="1165" y="1543">Number at risk</text>
<text class="rl" x="1155" y="1553">low</text><text class="rl hi" x="1155" y="1564">high</text>
<g class="rk"><text x="1176" y="1553">597</text><text x="1224.8" y="1553">324</text><text x="1273.6" y="1553">89</text><text x="1322.4" y="1553">11</text><text x="1371.2" y="1553">1</text><text x="1420" y="1553">0</text></g>
<g class="rk hi"><text x="1176" y="1564">1059</text><text x="1224.8" y="1564">453</text><text x="1273.6" y="1564">123</text><text x="1322.4" y="1564">26</text><text x="1371.2" y="1564">4</text><text x="1420" y="1564">2</text></g>
</svg>
</body></html>
